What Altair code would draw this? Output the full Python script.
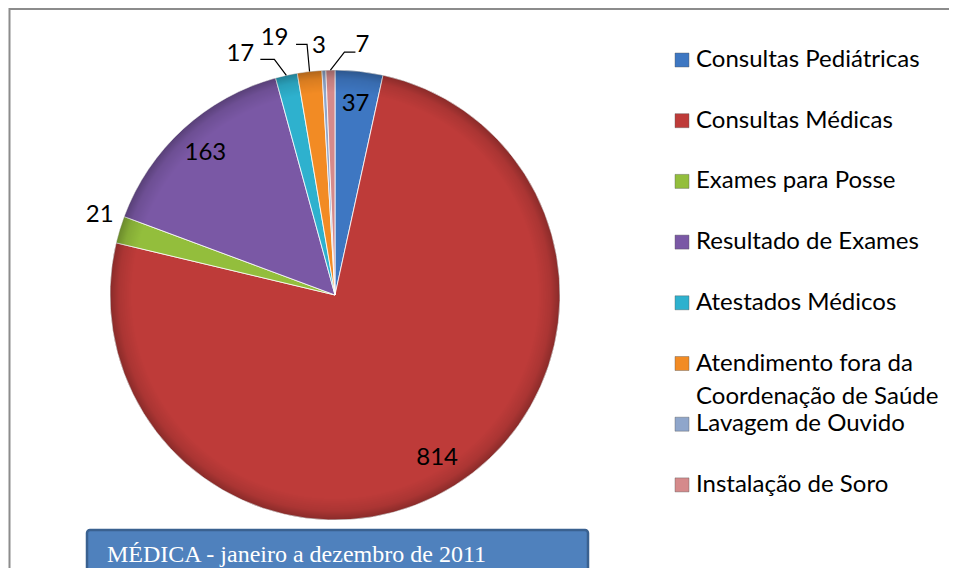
import math
import altair as alt
import pandas as pd

# ---- data ----
categories = [
    "Consultas Pediátricas",
    "Consultas Médicas",
    "Exames para Posse",
    "Resultado de Exames",
    "Atestados Médicos",
    "Atendimento fora da\nCoordenação de Saúde",
    "Lavagem de Ouvido",
    "Instalação de Soro",
]
values = [37, 814, 21, 163, 17, 19, 3, 7]
title_text = ["MÉDICA - janeiro a dezembro de 2011"]

palette = ["#3E77C2", "#BE3B39", "#93BE3C", "#7A58A5",
           "#2EB1CE", "#F28B24", "#8FA6CB", "#D58A8B"]

# ---- layout (pixels, plot-area coords) ----
W, H = 941, 560
CX, CY, R = 327, 287, 225
FONT = "Lato"
FS = 24

df = pd.DataFrame({"cat": categories, "value": values, "idx": list(range(len(values)))})
df["label"] = df["value"].astype(str)

color_scale = alt.Scale(domain=categories, range=palette)

# mid angles of the slices (radians, clockwise from 12 o'clock)
total = sum(values)
mids = []
cum = 0
for v in values:
    mids.append((cum + v / 2) / total * 2 * math.pi)
    cum += v

def edge(i):
    a = mids[i]
    return CX + R * math.sin(a), CY - R * math.cos(a)

# outside label offsets (relative to slice edge point) and leader elbows
outer_layout = {
    2: dict(label=(-20, -15), leader=None),
    4: dict(label=(-46, -21), leader=[(-12, -16), (-26, -16)]),
    5: dict(label=(-35, -33), leader=[(-2.5, -27), (-13.5, -27)]),
    6: dict(label=(-5, -24), leader=None),
    7: dict(label=(32, -25), leader=[(14, -18), (25, -18)]),
}

lab_rows, lead_rows = [], []
for i, lay in outer_layout.items():
    ex, ey = edge(i)
    lab_rows.append({"px": ex + lay["label"][0], "py": ey + lay["label"][1], "t": str(values[i])})
    if lay["leader"]:
        pts = [(0, 0)] + lay["leader"]
        for k, (dx, dy) in enumerate(pts):
            lead_rows.append({"g": i, "o": k, "px": ex + dx, "py": ey + dy})
lab_df = pd.DataFrame(lab_rows)
lead_df = pd.DataFrame(lead_rows)

# legend rows
LEG_Y0, LEG_DY = 52, 60.7
leg_df = pd.DataFrame({
    "cat": categories,
    "py": [LEG_Y0 + i * LEG_DY for i in range(len(categories))],
})

base = alt.Chart(df)

pie = base.mark_arc(outerRadius=R, stroke="white", strokeWidth=0.8).encode(
    theta=alt.Theta("value:Q", stack=True),
    order=alt.Order("idx:Q"),
    color=alt.Color("cat:N", scale=color_scale, legend=None),
    x=alt.value(CX), y=alt.value(CY),
)

rim_fill = alt.RadialGradient(
    gradient="radial",
    stops=[
        alt.GradientStop(color="rgba(0,0,0,0)", offset=0),
        alt.GradientStop(color="rgba(0,0,0,0)", offset=0.9),
        alt.GradientStop(color="rgba(0,0,0,0.10)", offset=0.96),
        alt.GradientStop(color="rgba(0,0,0,0.28)", offset=1),
    ],
    x1=0.5, y1=0.5, r1=0, x2=0.5, y2=0.5, r2=0.5,
)
one = pd.DataFrame({"a": [0]})
rim = alt.Chart(one).mark_arc(
    outerRadius=R, theta=0, theta2=2 * math.pi, fill=rim_fill
).encode(x=alt.value(CX), y=alt.value(CY))

inner = base.transform_calculate(
    t="datum.value >= 30 ? datum.label : ''"
).mark_text(radius=192, fontSize=FS, font=FONT, color="black").encode(
    theta=alt.Theta("value:Q", stack=True),
    order=alt.Order("idx:Q"),
    text="t:N",
    x=alt.value(CX), y=alt.value(CY),
)

outer = alt.Chart(lab_df).mark_text(fontSize=FS, font=FONT, color="black", baseline="middle").encode(
    x=alt.X("px:Q", scale=None), y=alt.Y("py:Q", scale=None), text="t:N"
)

leaders = alt.Chart(lead_df).mark_line(color="black", strokeWidth=1.2).encode(
    x=alt.X("px:Q", scale=None), y=alt.Y("py:Q", scale=None),
    detail="g:N", order="o:Q",
)

leg_marks = alt.Chart(leg_df).mark_square(size=196, opacity=1, stroke="#555555", strokeWidth=0.4).encode(
    x=alt.value(674), y=alt.Y("py:Q", scale=None),
    color=alt.Color("cat:N", scale=color_scale, legend=None),
)

leg_text = alt.Chart(leg_df).mark_text(
    align="left", baseline="top", dy=-12, fontSize=24, font=FONT, color="black",
    lineBreak="\n", lineHeight=33,
).encode(
    x=alt.value(688), y=alt.Y("py:Q", scale=None), text="cat:N"
)

title_df = pd.DataFrame({"t": title_text})
title_box = alt.Chart(title_df).mark_rect(
    fill="#4F81BD", stroke="#3A6190", strokeWidth=2.5, cornerRadius=3
).encode(x=alt.value(79), x2=alt.value(580), y=alt.value(522), y2=alt.value(H + 12))

title_txt = alt.Chart(title_df).mark_text(
    align="left", baseline="middle", font="Liberation Serif", fontSize=24, color="white"
).encode(x=alt.value(99), y=alt.value(547), text="t:N")

border_left = alt.Chart(one).mark_rule(color="#8C8C8C", strokeWidth=2).encode(
    x=alt.value(1.5), y=alt.value(0), y2=alt.value(H)
)
border_top = alt.Chart(one).mark_rule(color="#8C8C8C", strokeWidth=2).encode(
    x=alt.value(1.5), x2=alt.value(W), y=alt.value(1)
)

chart = alt.layer(
    border_left, border_top, pie, rim, inner, leaders, outer, leg_marks, leg_text, title_box, title_txt
).properties(
    width=W, height=H, padding=0, autosize="none"
).configure_view(stroke=None)

chart.save("out.html", embed_options={"renderer": "svg", "actions": False})
